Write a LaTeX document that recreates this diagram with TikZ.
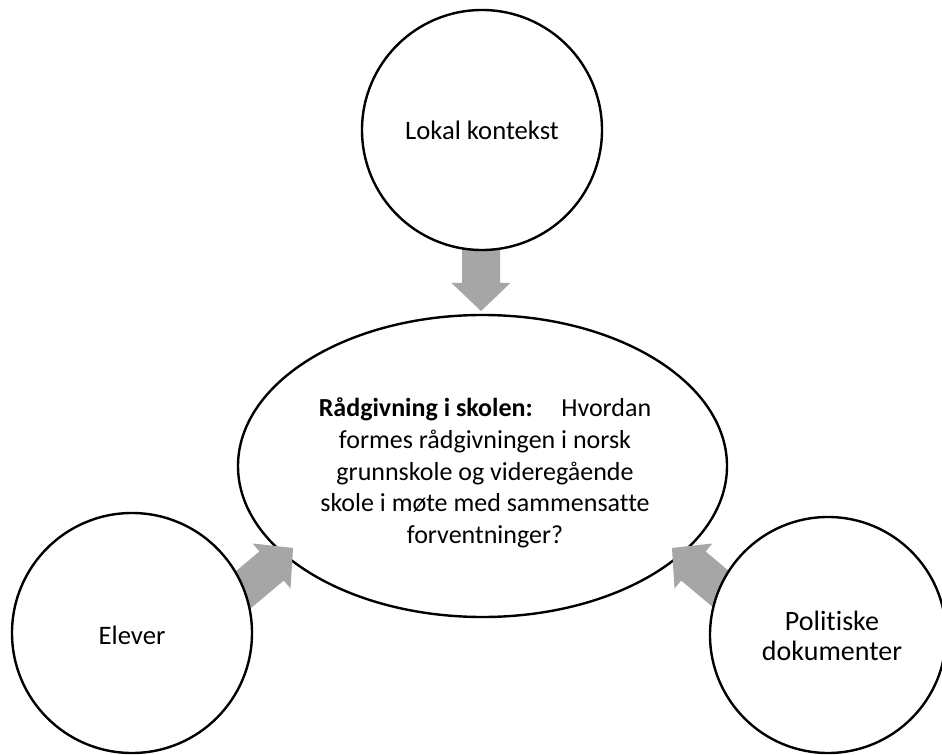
\documentclass[tikz,border=0pt]{standalone}
\usepackage{fontspec}
\setmainfont{Carlito}[Ligatures=CommonOff]
\usetikzlibrary{calc,shapes.geometric}

\definecolor{arrowgray}{RGB}{166,166,166}

\tikzset{
  theme/.style={draw=black, line width=1.8pt, fill=white},
  topic/.style={theme, circle, inner sep=0pt},
  label/.style={align=center, font=\fontsize{20}{22.8}\selectfont},
  blockfill/.style={fill=arrowgray}
}

% broad block arrow from #1 to #2
\newcommand\blockarrow[2]{%
  \coordinate (hb) at ($(#2)!21pt!(#1)$);
  \fill[blockfill]
    ($(#1)!14.25pt!90:(#2)$) -- ($(hb)!14.25pt!90:(#2)$) --
    ($(hb)!22.1pt!90:(#2)$) -- (#2) --
    ($(hb)!22.1pt!-90:(#2)$) -- ($(hb)!14.25pt!-90:(#2)$) --
    ($(#1)!14.25pt!-90:(#2)$) -- cycle;
}

\begin{document}
\begin{tikzpicture}[x=0.75pt, y=-0.75pt]
  \useasboundingbox (0,0) rectangle (942,755);

  % central question
  \node[theme, ellipse, minimum width=489*0.75pt, minimum height=302*0.75pt, inner sep=0pt]
    (core) at (482.5,466) {};
  \node[label, font=\fontsize{19.5}{23.8}\selectfont] (question) at (485,473)
    {\textbf{Rådgivning i skolen:}\hspace{1.1em}Hvordan\\
     formes rådgivningen i norsk\\
     grunnskole og videregående\\
     skole i møte med sammensatte\\
     forventninger?};

  % arrow end points
  \coordinate (topTail)   at (481,240);
  \coordinate (topTip)    at (481,311);
  \coordinate (leftTail)  at (224,606);
  \coordinate (leftTip)   at (293,548);
  \coordinate (rightTail) at (741,606);
  \coordinate (rightTip)  at (672,548);

  \blockarrow{topTail}{topTip}
  \blockarrow{leftTail}{leftTip}
  \blockarrow{rightTail}{rightTip}

  % surrounding influences
  \node[topic, minimum size=240*0.75pt] (local) at (482,130) {};
  \node[label] at (local) {Lokal kontekst};

  \node[topic, minimum size=240*0.75pt] (pupils) at (132,633) {};
  \node[label] at (132,635) {Elever};

  \node[topic, minimum size=236*0.75pt] (policy) at (828,635) {};
  \node[label, font=\fontsize{21}{22.8}\selectfont] at (832,636) {Politiske\\dokumenter};
\end{tikzpicture}
\end{document}
